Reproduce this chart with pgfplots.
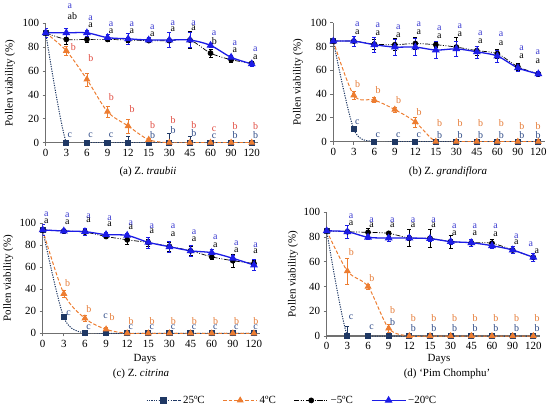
\documentclass[border=0pt]{standalone}
\usepackage{fontspec}
\setmainfont{Liberation Serif}
\usepackage{pgfplots}
\pgfplotsset{compat=1.18}
\definecolor{cnavy}{HTML}{1F3864}
\definecolor{corange}{HTML}{ED7D31}
\definecolor{cblue}{HTML}{1C1CE6}
\definecolor{lblue}{HTML}{3A3AD0}
\definecolor{lred}{HTML}{E04A3F}
\definecolor{lorange}{HTML}{E57A35}
\definecolor{lnavy}{HTML}{2E4A86}
\definecolor{axgray}{HTML}{707070}
\newcommand{\fs}{\fontsize{11}{12}\selectfont}
\newcommand{\lt}[4]{\node[text=#3,anchor=west,inner sep=0pt,xshift=1.2bp,font=\fontsize{10}{10.5}\selectfont] at (axis cs:#1,#2) {#4};}
\pgfplotsset{
 panel/.style={
  scale only axis, xmin=0, xmax=10.3, ymin=0, ymax=100,
  axis x line=bottom, axis y line=left,
  axis line style={-, axgray, line width=1.1bp},
  tick style={axgray, line width=0.8bp},
  tick align=outside, major tick length=3bp,
  xtick={0,...,10}, xticklabels={0,3,6,9,12,15,30,45,60,90,120},
  ytick={0,20,...,100},
  /pgf/number format/assume math mode=true,
  tick label style={font=\fs},
  clip=true,
 },
 s25/.style={cnavy, line width=1bp, dash pattern=on 1.2bp off 1.2bp, smooth, tension=0.5,
   mark=square*, mark size=2.6bp, mark options={solid, fill=cnavy},
   error bars/y dir=both, error bars/y explicit,
   error bars/error bar style={cnavy, solid, line width=0.6bp},
   error bars/error mark options={rotate=90, mark size=2bp, cnavy, solid, line width=0.6bp}},
 s4/.style={corange, line width=1bp, dash pattern=on 3.5bp off 2bp, smooth, tension=0.5,
   mark=triangle*, mark size=3.1bp, mark options={solid, fill=corange},
   error bars/y dir=both, error bars/y explicit,
   error bars/error bar style={corange, solid, line width=0.6bp},
   error bars/error mark options={rotate=90, mark size=2bp, corange, solid, line width=0.6bp}},
 s5/.style={black, line width=0.7bp, dash pattern=on 5bp off 1.5bp on 1bp off 1.5bp on 1bp off 1.5bp, smooth, tension=0.5,
   mark=*, mark size=2.5bp, mark options={solid, fill=black},
   error bars/y dir=both, error bars/y explicit,
   error bars/error bar style={black, solid, line width=0.6bp},
   error bars/error mark options={rotate=90, mark size=2bp, black, solid, line width=0.6bp}},
 s20/.style={cblue, line width=1.3bp, solid, smooth, tension=0.5,
   mark=triangle*, mark size=3.3bp, mark options={solid, fill=cblue},
   error bars/y dir=both, error bars/y explicit,
   error bars/error bar style={cblue, solid, line width=0.6bp},
   error bars/error mark options={rotate=90, mark size=2bp, cblue, solid, line width=0.6bp}},
}
\begin{document}
\begin{tikzpicture}[x=1bp,y=1bp]
\useasboundingbox (0,0) rectangle (550,418);
% ---------------- (a)
\begin{axis}[panel, at={(45.7bp,275.3bp)}, anchor=south west, width=212.2bp, height=119.4bp,
 ylabel={Pollen viability (\%)}, ylabel style={font=\fs, at={(axis description cs:-0.168,0.5)}, anchor=center},
 after end axis/.code={
  \lt{1}{114}{lblue}{a}\lt{2}{104}{lblue}{a}\lt{3}{99}{lblue}{a}\lt{4}{99}{lblue}{a}\lt{5}{97}{lblue}{a}
  \lt{6}{100}{lblue}{a}\lt{7}{100}{lblue}{a}\lt{8}{92}{lblue}{a}\lt{9}{83}{lblue}{a}\lt{10}{78}{lblue}{a}
  \lt{1}{106}{black}{ab}\lt{2}{98.5}{black}{a}\lt{3}{93.5}{black}{a}\lt{4}{93.5}{black}{a}\lt{5}{91}{black}{a}
  \lt{6}{95}{black}{a}\lt{7}{96}{black}{a}\lt{8}{85}{black}{b}\lt{9}{77.5}{black}{a}\lt{10}{72}{black}{a}
  \lt{1.15}{80}{lred}{b}\lt{2}{70.5}{lred}{b}\lt{3}{38.5}{lred}{b}\lt{4}{28.5}{lred}{b}\lt{5}{14.5}{lred}{b}
  \lt{6}{19}{lred}{b}\lt{7}{14.5}{lred}{b}\lt{8}{11}{lred}{c}\lt{9}{14}{lred}{b}\lt{10}{13.5}{lred}{b}
  \lt{1}{6.5}{lnavy}{c}\lt{2}{6.5}{lnavy}{c}\lt{3}{6.5}{lnavy}{c}\lt{5}{6.5}{lnavy}{b}\lt{6}{10.5}{lnavy}{b}
  \lt{7}{8}{lnavy}{b}\lt{8}{5.5}{lnavy}{c}\lt{9}{6.2}{lnavy}{b}\lt{10}{6.2}{lnavy}{b}
 }]
\addplot[s25] coordinates {(0,92) (1,0) (2,0) (3,0) (4,0) +- (0,5) (5,0) (6,0) +- (0,7.5) (7,0) +- (0,5) (8,0) (9,0) (10,0)};
\addplot[s4] coordinates {(0,92) (1,77) +- (0,4) (2,53) +- (0,5.5) (3,26) +- (0,4.5) (4,14) +- (0,6) (5,2.5) +- (0,1) (6,0) (7,0) (8,0) (9,0) (10,0)};
\addplot[s5] coordinates {(0,92) (1,86.5) +- (0,4) (2,86.5) +- (0,2) (3,86.5) +- (0,1.5) (4,86) +- (0,2) (5,85.5) +- (0,1.5) (6,85.5) +- (0,1.5) (7,86) +- (0,7) (8,75) +- (0,3.5) (9,69.5) +- (0,2) (10,66.5) +- (0,2)};
\addplot[s20] coordinates {(0,92) +- (0,4) (1,92) +- (0,4) (2,92) +- (0,2.5) (3,88) +- (0,2.5) (4,87) +- (0,5) (5,86) +- (0,2) (6,86) +- (0,6.5) (7,86) +- (0,6.5) (8,81.5) +- (0,1.5) (9,71.5) +- (0,2) (10,66) +- (0,2)};
\end{axis}
% ---------------- (b)
\begin{axis}[panel, at={(333.3bp,276.3bp)}, anchor=south west, width=211.2bp, height=119bp,
 ylabel={Pollen viability (\%)}, ylabel style={font=\fs, at={(axis description cs:-0.167,0.5)}, anchor=center},
 after end axis/.code={
  \lt{1}{98.7}{lblue}{a}\lt{2}{97.6}{lblue}{a}\lt{3}{96}{lblue}{a}\lt{4}{98.7}{lblue}{a}\lt{5}{95.5}{lblue}{a}
  \lt{6}{97}{lblue}{a}\lt{7}{91}{lblue}{a}\lt{8}{90}{lblue}{a}\lt{9}{78.2}{lblue}{a}\lt{9.8}{75.6}{lblue}{a}
  \lt{1}{92}{black}{a}\lt{2}{91.3}{black}{a}\lt{3}{89.7}{black}{a}\lt{4}{92}{black}{a}\lt{5}{89}{black}{a}
  \lt{6}{90.2}{black}{a}\lt{7}{84.3}{black}{a}\lt{8}{83}{black}{a}\lt{9}{71.5}{black}{a}\lt{9.8}{67.6}{black}{a}
  \lt{1}{48.5}{lorange}{b}\lt{2}{43}{lorange}{b}\lt{3}{35}{lorange}{b}\lt{4}{25}{lorange}{b}\lt{5}{15.4}{lorange}{b}
  \lt{6}{15.4}{lorange}{b}\lt{7}{15.4}{lorange}{b}\lt{8}{15.4}{lorange}{b}\lt{9}{13}{lorange}{b}\lt{9.8}{13}{lorange}{b}
  \lt{1}{16.8}{lnavy}{c}\lt{2}{5.3}{lnavy}{c}\lt{3}{5.3}{lnavy}{c}\lt{4}{5.3}{lnavy}{c}\lt{5}{5.5}{lnavy}{b}
  \lt{6}{5.5}{lnavy}{b}\lt{7}{5.5}{lnavy}{b}\lt{8}{5.5}{lnavy}{b}\lt{9}{5.5}{lnavy}{b}\lt{9.8}{5.5}{lnavy}{b}
 }]
\addplot[s25] coordinates {(0,84.5) (1,10.5) (2,0) (3,0) (4,0) (5,0) (6,0) (7,0) (8,0) (9,0) (10,0)};
\addplot[s4] coordinates {(0,84.5) (1,39) +- (0,3) (2,35) +- (0,2) (3,27) +- (0,2) (4,16.5) +- (0,4) (5,0) (6,0) (7,0) (8,0) (9,0) (10,0)};
\addplot[s5] coordinates {(0,84.5) (1,84.5) +- (0,4) (2,82) +- (0,4) (3,81.5) +- (0,5) (4,82.5) +- (0,5) (5,81.5) +- (0,2) (6,79.5) +- (0,8) (7,76.5) +- (0,4) (8,74) +- (0,4) (9,63) +- (0,3) (10,57) +- (0,2)};
\addplot[s20] coordinates {(0,84.5) +- (0,1) (1,84.5) +- (0,4) (2,81.5) +- (0,6) (3,79.5) +- (0,6.5) (4,79.5) +- (0,7) (5,77) +- (0,7) (6,78) +- (0,6) (7,75.5) +- (0,5) (8,72) +- (0,5) (9,62) +- (0,3) (10,57) +- (0,2)};
\end{axis}
% ---------------- (c)
\begin{axis}[panel, at={(42.7bp,84.7bp)}, anchor=south west, width=217.6bp, height=110bp,
 ylabel={Pollen viability (\%)}, ylabel style={font=\fs, at={(axis description cs:-0.158,0.5)}, anchor=center},
 legend style={at={(1.146,-0.61)}, anchor=center, draw=none, fill=none, legend columns=4, font=\fs,
   /tikz/every even column/.append style={column sep=16bp}},
 legend image code/.code={\draw[mark repeat=2,mark phase=2,#1] plot coordinates {(0bp,0bp)(17bp,0bp)(34bp,0bp)};},
 after end axis/.code={
  \lt{0}{108.5}{lblue}{a}\lt{1}{107.5}{lblue}{a}\lt{2}{106.6}{lblue}{a}\lt{3}{104.5}{lblue}{a}\lt{4}{100.5}{lblue}{a}\lt{5}{97.5}{lblue}{a}
  \lt{6}{97}{lblue}{a}\lt{7}{91.5}{lblue}{a}\lt{8}{87.8}{lblue}{a}\lt{9}{81.8}{lblue}{a}\lt{9.9}{80.3}{lblue}{a}
  \lt{0}{101.5}{black}{a}\lt{1}{101}{black}{a}\lt{2}{102.4}{black}{a}\lt{3}{99}{black}{a}\lt{4}{96}{black}{a}\lt{5}{92.4}{black}{a}
  \lt{6}{90}{black}{a}\lt{7}{85.5}{black}{a}\lt{8}{79.7}{black}{a}\lt{9}{75.7}{black}{a}\lt{9.9}{74.2}{black}{a}
  \lt{1}{46}{lorange}{b}\lt{2}{21.8}{lorange}{b}\lt{3.1}{14.5}{lorange}{b}\lt{4}{11}{lorange}{b}\lt{5}{11}{lorange}{b}
  \lt{6}{11}{lorange}{b}\lt{7}{11}{lorange}{b}\lt{8}{11}{lorange}{b}\lt{9}{11}{lorange}{b}\lt{9.9}{11}{lorange}{b}
  \lt{1.05}{18}{lnavy}{c}\lt{2}{6}{lnavy}{c}\lt{2.8}{15.7}{lnavy}{c}\lt{4}{5.2}{lnavy}{c}\lt{5}{5.2}{lnavy}{c}
  \lt{6}{5.2}{lnavy}{c}\lt{7}{5.2}{lnavy}{c}\lt{8}{5.2}{lnavy}{c}\lt{9}{5.2}{lnavy}{c}\lt{9.9}{5.2}{lnavy}{c}
 }]
\addplot[s25] coordinates {(0,94) (1,14.5) (2,0) (3,0) (4,0) (5,0) (6,0) (7,0) (8,0) (9,0) (10,0)};
\addplot[s4] coordinates {(0,94) (1,36) +- (0,3) (2,13.6) +- (0,3) (3,3.6) +- (0,1.5) (4,0) (5,0) (6,0) (7,0) (8,0) (9,0) (10,0)};
\addplot[s5] coordinates {(0,94) (1,93) (2,92) +- (0,3) (3,88) +- (0,1) (4,85) +- (0,4) (5,82.5) +- (0,3) (6,79) +- (0,4) (7,75) +- (0,4) (8,69.5) +- (0,2) (9,66) +- (0,6) (10,63.5) +- (0,3)};
\addplot[s20] coordinates {(0,94) +- (0,5) (1,93) +- (0,2) (2,92.4) +- (0,3) (3,89.7) +- (0,2) (4,89) +- (0,2) (5,82.7) +- (0,5) (6,78.7) +- (0,5) (7,75) +- (0,5) (8,73.3) +- (0,3) (9,68.2) +- (0,3) (10,62) +- (0,5)};
\legend{25ºC, 4ºC, −5ºC, −20ºC}
\end{axis}
% ---------------- (d)
\begin{axis}[panel, at={(326.7bp,82bp)}, anchor=south west, width=212.8bp, height=123.7bp,
 ylabel={Pollen viability (\%)}, ylabel style={font=\fs, at={(axis description cs:-0.158,0.5)}, anchor=center},
 after end axis/.code={
  \lt{1}{96.5}{lblue}{a}\lt{2}{93.3}{lblue}{a}\lt{3}{93.3}{lblue}{a}\lt{4}{93.3}{lblue}{a}\lt{5}{93.3}{lblue}{a}
  \lt{6}{88.9}{lblue}{a}\lt{7}{88.4}{lblue}{a}\lt{8}{88.4}{lblue}{a}\lt{9}{81}{lblue}{a}\lt{9.7}{74.4}{lblue}{a}
  \lt{1}{91.1}{black}{a}\lt{2}{89.5}{black}{a}\lt{3}{89.5}{black}{a}\lt{4}{89.5}{black}{a}\lt{5}{89.5}{black}{a}
  \lt{6}{83}{black}{a}\lt{7}{83}{black}{a}\lt{8}{82}{black}{a}\lt{9}{75.5}{black}{a}\lt{10}{68.7}{black}{a}
  \lt{1}{68.2}{lorange}{b}\lt{2}{46.6}{lorange}{b}\lt{3}{21}{lorange}{b}\lt{4}{14.3}{lorange}{b}\lt{5}{14.3}{lorange}{b}
  \lt{6}{14.3}{lorange}{b}\lt{7}{14.3}{lorange}{b}\lt{8}{14.3}{lorange}{b}\lt{9}{14.3}{lorange}{b}\lt{10}{14.3}{lorange}{b}
  \lt{1}{15.6}{lnavy}{c}\lt{2}{7}{lnavy}{c}\lt{3}{11.6}{lnavy}{b}\lt{4}{6.2}{lnavy}{b}\lt{5}{6.2}{lnavy}{b}
  \lt{6}{6.2}{lnavy}{b}\lt{7}{6.2}{lnavy}{b}\lt{8}{6.2}{lnavy}{b}\lt{9}{6.2}{lnavy}{b}\lt{10}{6.2}{lnavy}{b}
 }]
\addplot[s25] coordinates {(0,85) (1,0) +- (0,7.5) (2,0) (3,0) (4,0) (5,0) (6,0) (7,0) (8,0) (9,0) (10,0)};
\addplot[s4] coordinates {(0,85) (1,52.5) +- (0,10.4) (2,40) +- (0,2) (3,6.2) +- (0,3) (4,0) (5,0) (6,0) (7,0) (8,0) (9,0) (10,0)};
\addplot[s5] coordinates {(0,85) (1,84.3) (2,83.8) +- (0,3) (3,83) +- (0,2) (4,79.2) +- (0,7) (5,79) +- (0,7) (6,76.3) +- (0,5) (7,75.4) +- (0,3) (8,75) +- (0,3) (9,69.5) +- (0,3) (10,63.6) +- (0,3)};
\addplot[s20] coordinates {(0,85) +- (0,2) (1,84.3) +- (0,5) (2,79.8) +- (0,2) (3,79.2) +- (0,3) (4,79.2) +- (0,2) (5,78.7) +- (0,2) (6,76.3) +- (0,2) (7,75.4) +- (0,3) (8,73) +- (0,2) (9,69.5) +- (0,3) (10,63.6) +- (0,3)};
\end{axis}
% captions
\node[font=\fs] at (148,246) {(a) Z. \textit{traubii}};
\node[font=\fs] at (448,246) {(b) Z. \textit{grandiflora}};
\node[font=\fs] at (145,59) {Days};
\node[font=\fs] at (141,44) {(c) Z. \textit{citrina}};
\node[font=\fs] at (439,59) {Days};
\node[font=\fs] at (447,44) {(d) ‘Pim Chomphu’};
\end{tikzpicture}
\end{document}
